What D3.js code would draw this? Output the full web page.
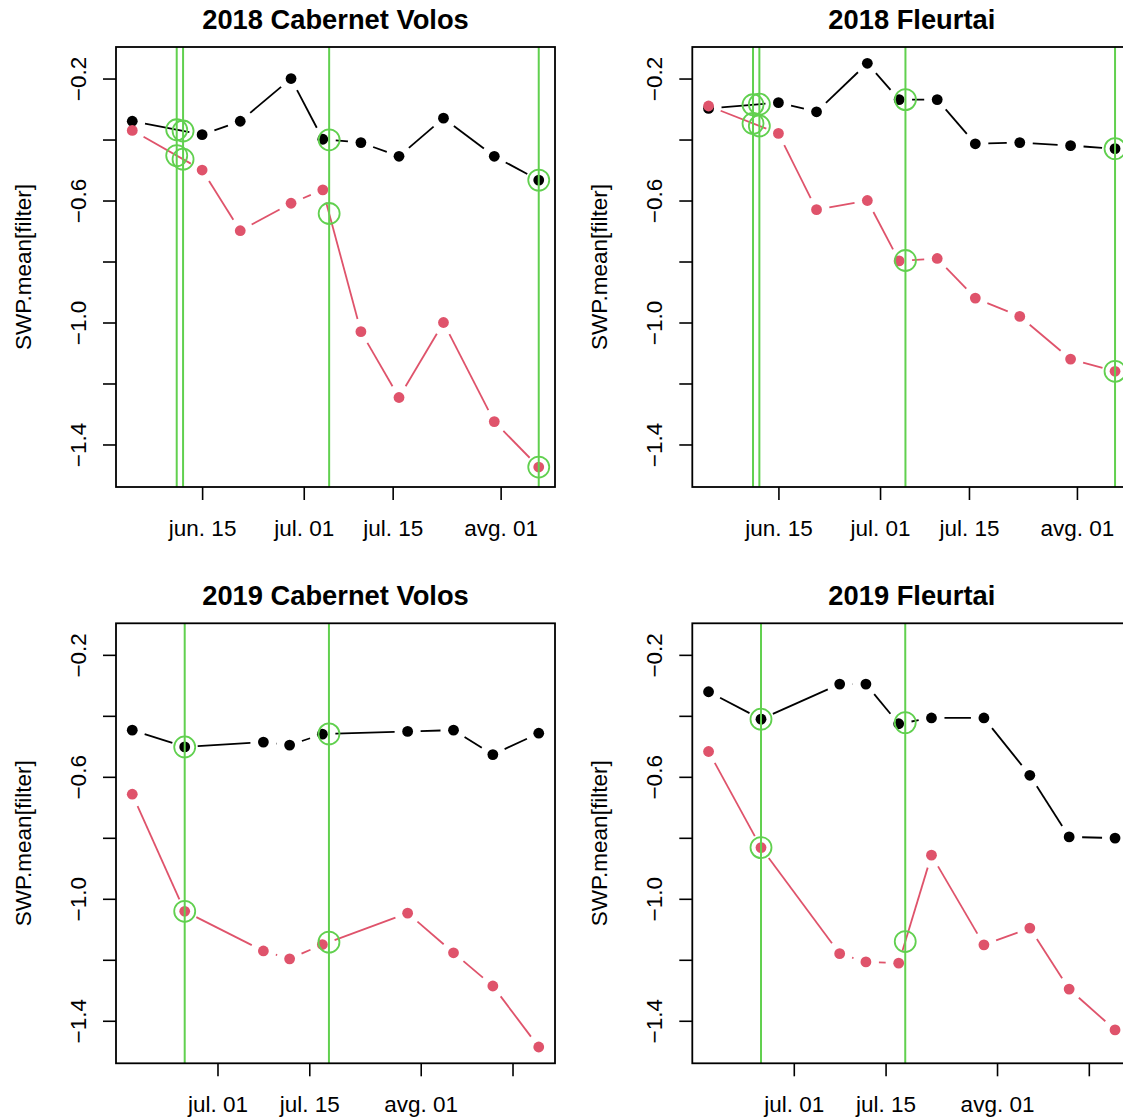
<!DOCTYPE html>
<html>
<head>
<meta charset="utf-8">
<script src="https://cdn.jsdelivr.net/npm/d3@7"></script>
<style>
  html, body { margin: 0; padding: 0; background: #fff; }
  svg { display: block; font-family: "Liberation Sans", Arial, Helvetica, sans-serif; }
</style>
</head>
<body>
<script>
// ---- data -------------------------------------------------------------
const panelTitles = ["2018 Cabernet Volos", "2018 Fleurtai", "2019 Cabernet Volos", "2019 Fleurtai"];

const dates2018 = ["2018-06-04", "2018-06-15", "2018-06-21", "2018-06-29", "2018-07-04",
                   "2018-07-10", "2018-07-16", "2018-07-23", "2018-07-31", "2018-08-07"];
const datesCab2019 = ["2019-06-18", "2019-06-26", "2019-07-08", "2019-07-12", "2019-07-17",
                      "2019-07-30", "2019-08-06", "2019-08-12", "2019-08-19"];
const datesFleur2019 = ["2019-06-18", "2019-06-26", "2019-07-08", "2019-07-12", "2019-07-17",
                        "2019-07-22", "2019-07-30", "2019-08-06", "2019-08-12", "2019-08-19"];

// two SWP series per panel (black, red)
const cab2018Black = [-0.34, -0.384, -0.34, -0.20, -0.399, -0.41, -0.455, -0.33, -0.455, -0.533];
const cab2018Red   = [-0.37, -0.50, -0.699, -0.609, -0.565, -1.03, -1.246, -1.00, -1.325, -1.474];
const fleur2018Black = [-0.298, -0.279, -0.309, -0.15, -0.269, -0.269, -0.414, -0.41, -0.42, -0.43];
const fleur2018Red   = [-0.29, -0.38, -0.63, -0.60, -0.798, -0.79, -0.92, -0.98, -1.12, -1.16];
const cab2019Black = [-0.447, -0.502, -0.486, -0.496, -0.46, -0.451, -0.447, -0.527, -0.457];
const cab2019Red   = [-0.657, -1.041, -1.171, -1.197, -1.15, -1.047, -1.177, -1.286, -1.486];
const fleur2019Black = [-0.321, -0.411, -0.296, -0.296, -0.426, -0.407, -0.407, -0.595, -0.797, -0.801];
const fleur2019Red   = [-0.517, -0.832, -1.18, -1.207, -1.211, -0.857, -1.151, -1.096, -1.296, -1.43];

// event dates marked with vertical lines
const events2018 = ["2018-06-11", "2018-06-12", "2018-07-05", "2018-08-07"];
const events2019 = ["2019-06-26", "2019-07-18"];

// axis ticks
const xTicks2018 = ["2018-06-15", "2018-07-01", "2018-07-15", "2018-08-01"];
const xTickLabels2018 = ["jun. 15", "jul. 01", "jul. 15", "avg. 01"];
const xTicks2019 = ["2019-07-01", "2019-07-15", "2019-08-01", "2019-08-15"];
const xTickLabels2019 = ["jul. 01", "jul. 15", "avg. 01", ""];
const yTicks = [-0.2, -0.4, -0.6, -0.8, -1.0, -1.2, -1.4];
const yTickLabels = ["\u22120.2", "", "\u22120.6", "", "\u22121.0", "", "\u22121.4"];
const yLabel = "SWP.mean[filter]";

// ---- layout -----------------------------------------------------------
const W = 1123, H = 1119;
const cell = 576.3;
const box = { left: 116, top: 47, width: 439, height: 440 };
const RED = "#DF536B", GREEN = "#61D04F";
const AXIS_FONT = 22.5, TITLE_FONT = 27.3;
const GAP = 13;      // gap left around each point by the connecting segments

const parse = d3.utcParse("%Y-%m-%d");

const panels = [
  { title: panelTitles[0], dates: dates2018, black: cab2018Black, red: cab2018Red,
    events: events2018, ticks: xTicks2018, tickLabels: xTickLabels2018, col: 0, row: 0 },
  { title: panelTitles[1], dates: dates2018, black: fleur2018Black, red: fleur2018Red,
    events: events2018, ticks: xTicks2018, tickLabels: xTickLabels2018, col: 1, row: 0 },
  { title: panelTitles[2], dates: datesCab2019, black: cab2019Black, red: cab2019Red,
    events: events2019, ticks: xTicks2019, tickLabels: xTickLabels2019, col: 0, row: 1 },
  { title: panelTitles[3], dates: datesFleur2019, black: fleur2019Black, red: fleur2019Red,
    events: events2019, ticks: xTicks2019, tickLabels: xTickLabels2019, col: 1, row: 1 }
];

// common y range over all panels, padded by 4% like R's default
const allVals = [].concat(cab2018Black, cab2018Red, fleur2018Black, fleur2018Red,
                          cab2019Black, cab2019Red, fleur2019Black, fleur2019Red);
const [yMin, yMax] = d3.extent(allVals);
const yPad = (yMax - yMin) * 0.04;

const svg = d3.select("body").append("svg")
  .attr("width", W).attr("height", H)
  .attr("viewBox", `0 0 ${W} ${H}`);

panels.forEach((p, i) => {
  const ox = p.col * cell, oy = p.row * cell;
  const g = svg.append("g").attr("transform", `translate(${ox},${oy})`);

  const dts = p.dates.map(parse);
  const [d0, d1] = d3.extent(dts);
  const span = d1 - d0;
  const x = d3.scaleUtc()
    .domain([new Date(+d0 - span * 0.04), new Date(+d1 + span * 0.04)])
    .range([box.left, box.left + box.width]);
  const y = d3.scaleLinear()
    .domain([yMin - yPad, yMax + yPad])
    .range([box.top + box.height, box.top]);

  const clipId = "clip" + i;
  g.append("clipPath").attr("id", clipId)
    .append("rect").attr("x", box.left).attr("y", box.top)
    .attr("width", box.width).attr("height", box.height);

  // axes
  const xAxis = d3.axisBottom(x)
    .tickValues(p.ticks.map(parse))
    .tickFormat((d, k) => p.tickLabels[k])
    .tickSize(13).tickPadding(10).tickSizeOuter(0);
  const gx = g.append("g").attr("transform", `translate(0,${box.top + box.height})`).call(xAxis);
  gx.select(".domain").remove();
  gx.selectAll(".tick line").attr("stroke", "#000").attr("stroke-width", 1.6);
  gx.selectAll(".tick text")
    .attr("font-size", AXIS_FONT).attr("fill", "#000")
    .attr("font-family", "Liberation Sans, Arial, sans-serif")
    .attr("dy", null).attr("y", 49);

  const yAxis = d3.axisLeft(y)
    .tickValues(yTicks)
    .tickFormat((d, k) => yTickLabels[k])
    .tickSize(13).tickSizeOuter(0);
  const gy = g.append("g").attr("transform", `translate(${box.left},0)`).call(yAxis);
  gy.select(".domain").remove();
  gy.selectAll(".tick line").attr("stroke", "#000").attr("stroke-width", 1.6);
  gy.selectAll(".tick text")
    .attr("font-size", AXIS_FONT).attr("fill", "#000")
    .attr("font-family", "Liberation Sans, Arial, sans-serif")
    .attr("x", null).attr("dy", null)
    .attr("text-anchor", "middle")
    .attr("transform", "translate(-30.5,0) rotate(-90)");

  // y axis title
  g.append("text")
    .attr("transform", `translate(31,${box.top + box.height / 2}) rotate(-90)`)
    .attr("text-anchor", "middle")
    .attr("font-size", AXIS_FONT)
    .text(yLabel);

  // panel title
  g.append("text")
    .attr("x", box.left + box.width / 2).attr("y", 28.5)
    .attr("text-anchor", "middle")
    .attr("font-size", TITLE_FONT).attr("font-weight", "bold")
    .text(p.title);

  const plot = g.append("g").attr("clip-path", `url(#${clipId})`);

  // connected points with gaps around each point
  function drawSeries(vals, color) {
    const pts = dts.map((d, k) => [x(d), y(vals[k])]);
    const segs = [];
    for (let k = 0; k < pts.length - 1; k++) {
      const [xa, ya] = pts[k], [xb, yb] = pts[k + 1];
      const len = Math.hypot(xb - xa, yb - ya);
      if (len <= 2 * GAP) continue;
      const ux = (xb - xa) / len, uy = (yb - ya) / len;
      segs.push([xa + ux * GAP, ya + uy * GAP, xb - ux * GAP, yb - uy * GAP]);
    }
    plot.append("g").selectAll("line").data(segs).join("line")
      .attr("x1", s => s[0]).attr("y1", s => s[1])
      .attr("x2", s => s[2]).attr("y2", s => s[3])
      .attr("stroke", color).attr("stroke-width", 1.8);
    plot.append("g").selectAll("circle").data(pts).join("circle")
      .attr("cx", d => d[0]).attr("cy", d => d[1]).attr("r", 5.4)
      .attr("fill", color);
  }
  drawSeries(p.black, "#000");
  drawSeries(p.red, RED);

  // event lines
  const evs = p.events.map(parse);
  plot.append("g").selectAll("line").data(evs).join("line")
    .attr("x1", d => x(d)).attr("x2", d => x(d))
    .attr("y1", box.top).attr("y2", box.top + box.height)
    .attr("stroke", GREEN).attr("stroke-width", 2);

  // series values at each event date (linear interpolation)
  const interp = (vals, d) => {
    const t = +d;
    for (let k = 0; k < dts.length - 1; k++) {
      if (t >= +dts[k] && t <= +dts[k + 1]) {
        const f = (t - dts[k]) / (dts[k + 1] - dts[k]);
        return vals[k] + f * (vals[k + 1] - vals[k]);
      }
    }
    return null;
  };
  const marks = [];
  evs.forEach(d => {
    [p.black, p.red].forEach(vals => {
      const v = interp(vals, d);
      if (v !== null) marks.push([d, v]);
    });
  });
  plot.append("g").selectAll("circle").data(marks).join("circle")
    .attr("cx", m => x(m[0])).attr("cy", m => y(m[1])).attr("r", 10.5)
    .attr("fill", "none").attr("stroke", GREEN).attr("stroke-width", 1.8);

  // plot frame
  g.append("rect")
    .attr("x", box.left).attr("y", box.top)
    .attr("width", box.width).attr("height", box.height)
    .attr("fill", "none").attr("stroke", "#000").attr("stroke-width", 1.8);
});
</script>
</body>
</html>
